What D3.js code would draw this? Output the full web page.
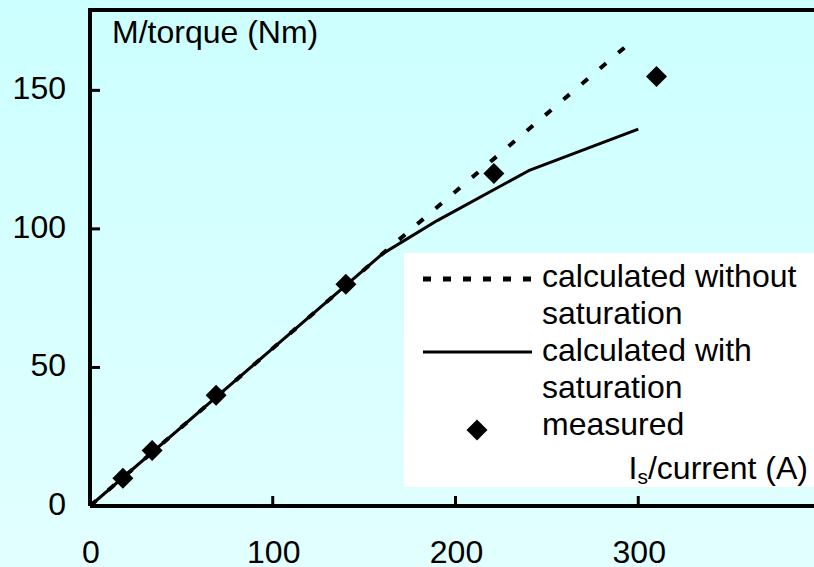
<!DOCTYPE html>
<html>
<head>
<meta charset="utf-8">
<script src="https://cdn.jsdelivr.net/npm/d3@7"></script>
<style>
  body { margin: 0; }
  text { font-family: "Liberation Sans", Arial, sans-serif; font-size: 32px; fill: black; }
</style>
</head>
<body>
<div id="chart"></div>
<script>
// torque vs current data
var currentWithout = [0, 160, 297];
var torqueWithout = [0, 91, 168];
var currentWith = [0, 160, 190, 240, 300];
var torqueWith = [0, 91, 103, 121, 136];
var currentMeasured = [18, 34, 69, 140, 221, 310];
var torqueMeasured = [10, 20, 40, 80, 120, 155];
var xTickValues = [100, 200, 300];
var xTickLabels = [0, 100, 200, 300];
var yTickValues = [50, 100, 150];
var yTickLabels = [0, 50, 100, 150];
var legendLabels = ["calculated without", "saturation", "calculated with", "saturation", "measured"];

var W = 814, H = 567;
var x = d3.scaleLinear().domain([0, 400]).range([90, 821]);
var y = d3.scaleLinear().domain([0, 179]).range([506, 10]);

var svg = d3.select("#chart")
  .append("svg")
  .attr("width", W)
  .attr("height", H);

// Background gradient
var grad = svg.append("defs")
  .append("linearGradient")
  .attr("id", "bg")
  .attr("x1", 0).attr("y1", 0).attr("x2", 0).attr("y2", 1);
grad.append("stop").attr("offset", "0%").attr("stop-color", "#ccffff");
grad.append("stop").attr("offset", "100%").attr("stop-color", "#e2ffff");

svg.append("rect")
  .attr("width", W)
  .attr("height", H)
  .style("fill", "url(#bg)");

// Legend box (white)
svg.append("rect")
  .attr("x", 404)
  .attr("y", 253)
  .attr("width", W - 404)
  .attr("height", 234)
  .style("fill", "white");

// Lines
function pts(xs, ys) { return xs.map(function(d, i) { return [d, ys[i]]; }); }
var line = d3.line()
  .x(function(d) { return x(d[0]); })
  .y(function(d) { return y(d[1]); });

svg.append("path")
  .attr("d", line(pts(currentWithout, torqueWithout)))
  .style("fill", "none")
  .style("stroke", "black")
  .style("stroke-width", "4px")
  .style("stroke-dasharray", "8,16");

svg.append("path")
  .attr("d", line(pts(currentWith, torqueWith)))
  .style("fill", "none")
  .style("stroke", "black")
  .style("stroke-width", "3px")
  .style("stroke-linejoin", "round");

// Measured diamonds
var diamond = "M0,-10.5L10.5,0L0,10.5L-10.5,0Z";
svg.selectAll("path.meas")
  .data(pts(currentMeasured, torqueMeasured))
  .enter()
  .append("path")
  .attr("class", "meas")
  .attr("d", diamond)
  .attr("transform", function(d) { return "translate(" + x(d[0]) + "," + y(d[1]) + ")"; })
  .style("fill", "black");

// Frame: left axis, bottom axis, top border
svg.append("path")
  .attr("d", "M" + x(0) + "," + y(0) + "H" + (W + 5) + "M" + x(0) + "," + y(0) + "V" + y(179) + "H" + (W + 5))
  .style("fill", "none")
  .style("stroke", "black")
  .style("stroke-width", "4px");

// Ticks
svg.selectAll("line.xtick")
  .data(xTickValues)
  .enter()
  .append("line")
  .attr("class", "xtick")
  .attr("x1", function(d) { return x(d); })
  .attr("x2", function(d) { return x(d); })
  .attr("y1", y(0))
  .attr("y2", y(0) - 10)
  .style("stroke", "black")
  .style("stroke-width", "3px");

svg.selectAll("line.ytick")
  .data(yTickValues)
  .enter()
  .append("line")
  .attr("class", "ytick")
  .attr("x1", x(0))
  .attr("x2", x(0) + 10)
  .attr("y1", function(d) { return y(d); })
  .attr("y2", function(d) { return y(d); })
  .style("stroke", "black")
  .style("stroke-width", "3px");

// Tick labels
svg.selectAll("text.xlab")
  .data(xTickLabels)
  .enter()
  .append("text")
  .attr("class", "xlab")
  .attr("x", function(d) { return x(d) + 1; })
  .attr("y", y(0) + 57)
  .attr("text-anchor", "middle")
  .text(function(d) { return d; });

svg.selectAll("text.ylab")
  .data(yTickLabels)
  .enter()
  .append("text")
  .attr("class", "ylab")
  .attr("x", 66)
  .attr("y", function(d) { return y(d) + 9; })
  .attr("text-anchor", "end")
  .text(function(d) { return d; });

// Axis titles
svg.append("text")
  .attr("x", 112)
  .attr("y", 43)
  .text("M/torque (Nm)");

var xt = svg.append("text")
  .attr("x", 808)
  .attr("y", 479)
  .attr("text-anchor", "end");
xt.append("tspan").text("I");
xt.append("tspan").attr("dy", 5).style("font-size", "21px").text("s");
xt.append("tspan").attr("dy", -5).text("/current (A)");

// Legend
svg.selectAll("text.leg")
  .data(legendLabels)
  .enter()
  .append("text")
  .attr("class", "leg")
  .attr("x", 542)
  .attr("y", function(d, i) { return 287 + i * 37; })
  .text(function(d) { return d; });

svg.append("line")
  .attr("x1", 423).attr("x2", 533)
  .attr("y1", 279).attr("y2", 279)
  .style("stroke", "black")
  .style("stroke-width", "5px")
  .style("stroke-dasharray", "8,12");

svg.append("line")
  .attr("x1", 423).attr("x2", 532)
  .attr("y1", 352).attr("y2", 352)
  .style("stroke", "black")
  .style("stroke-width", "3px");

svg.append("path")
  .attr("d", diamond)
  .attr("transform", "translate(477,430)")
  .style("fill", "black");
</script>
</body>
</html>
